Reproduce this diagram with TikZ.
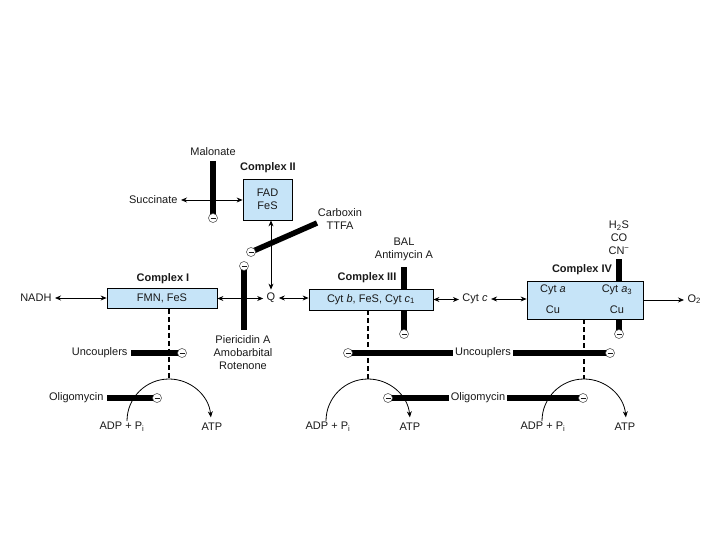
\documentclass[tikz,border=0pt]{standalone}
\usepackage{fontspec}
\setmainfont{Liberation Sans}
\usetikzlibrary{arrows.meta,positioning,backgrounds}
\definecolor{cplxblue}{RGB}{198,228,248}
\begin{document}
\begin{tikzpicture}[x=1pt,y=-1pt,
  every node/.style={font=\fontsize{11}{13}\selectfont, text=black!90},
  cplx/.style={draw, fill=cplxblue, line width=0.8pt, inner sep=0pt},
  ttl/.style={font=\fontsize{11}{13}\selectfont\bfseries},
  blk/.style={circle, draw=black!75, fill=white, line width=0.5pt, inner sep=0pt, minimum size=9pt},
  bar/.style={line width=5.5pt},
  flow/.style={{Stealth[length=6pt,width=5pt]}-{Stealth[length=6pt,width=5pt]}, line width=0.8pt},
  oneway/.style={-{Stealth[length=6pt,width=5pt]}, line width=0.8pt},
  link/.style={line width=1.6pt, dash pattern=on 5pt off 3pt},
  gap/.style={fill=white, inner xsep=2pt}]
  \useasboundingbox (0,0) rectangle (720,540);
  % complexes
  \node[cplx, minimum width=49pt, minimum height=41pt, align=center] (c2) at (267.5,199.5) {FAD\\FeS};
  \node[cplx, minimum width=110pt, minimum height=20pt] (c1) at (162,298.5) {FMN, FeS};
  \node[cplx, minimum width=124pt, minimum height=21pt] (c3) at (371,299.5) {Cyt \textit{b}, FeS, Cyt \textit{c}\textsubscript{1}};
  \node[cplx, minimum width=116pt, minimum height=38pt] (c4) at (585,300) {};
  \node (cyta)  at (553,290) {Cyt \textit{a}};
  \node (cyta3) at (617,290) {Cyt \textit{a}\textsubscript{3}};
  \node (cu1)   at (553,310) {Cu};
  \node (cu2)   at (617,310) {Cu};
  \node[ttl] (t1) at (163,279) {Complex I};
  \node[ttl] (t2) at (268,168) {Complex II};
  \node[ttl] (t3) at (367,278) {Complex III};
  \node[ttl] (t4) at (582,270) {Complex IV};
  % substrates and inhibitors
  \node (mal) at (213,152) {Malonate};
  \node[anchor=east] (succ) at (181,200) {Succinate};
  \node[align=center] (carb) at (340,219.5) {Carboxin\\TTFA};
  \node[anchor=east] (nadh) at (55,298) {NADH};
  \node (q) at (271,298) {Q};
  \node[align=center] (pier) at (243,353) {Piericidin A\\Amobarbital\\Rotenone};
  \node[align=center] (bal) at (404,249) {BAL\\Antimycin A};
  \node (cytc) at (475,299) {Cyt \textit{c}};
  \node[align=center] (cn) at (619,238) {H\textsubscript{2}S\\CO\\CN\textsuperscript{−}};
  \node[anchor=west] (o2) at (684,299) {O\textsubscript{2}};
  \node[anchor=east] (unc1) at (131,353) {Uncouplers};
  \node[gap] (unc2) at (483,353) {Uncouplers};
  \node[anchor=east] (oli1) at (107,398) {Oligomycin};
  \node[gap] (oli2) at (478,398) {Oligomycin};
  \node (adp1) at (122,427) {ADP + P\textsubscript{i}};
  \node (adp3) at (328,427) {ADP + P\textsubscript{i}};
  \node (adp4) at (543,427) {ADP + P\textsubscript{i}};
  \node (atp1) at (212,427) {ATP};
  \node (atp3) at (410,427) {ATP};
  \node (atp4) at (625,427) {ATP};
  % block marks
  \node[blk] (mb)  at (213,218) {\rule{5pt}{0.8pt}};
  \node[blk] (cb)  at (251,252) {\rule{5pt}{0.8pt}};
  \node[blk] (pb)  at (244,266) {\rule{5pt}{0.8pt}};
  \node[blk] (bb)  at (404,334) {\rule{5pt}{0.8pt}};
  \node[blk] (hb)  at (619,334) {\rule{5pt}{0.8pt}};
  \node[blk] (ub1) at (182,353) {\rule{5pt}{0.8pt}};
  \node[blk] (ub2) at (348,353) {\rule{5pt}{0.8pt}};
  \node[blk] (ub3) at (610,353) {\rule{5pt}{0.8pt}};
  \node[blk] (ob1) at (157,398) {\rule{5pt}{0.8pt}};
  \node[blk] (ob2) at (388,398) {\rule{5pt}{0.8pt}};
  \node[blk] (ob3) at (583,398) {\rule{5pt}{0.8pt}};
  \coordinate (mtop) at (213,161);
  \coordinate (ctop) at (317,223);
  \coordinate (pbot) at (244,330);
  \coordinate (btop) at (404,267);
  \coordinate (htop) at (619,259);
  \coordinate (k1) at (169,379);
  \coordinate (k3) at (368,379);
  \coordinate (k4) at (584,379);
  \begin{scope}[on background layer]
    \draw[bar] (mtop) -- (mb.center);
    \draw[bar] (ctop) -- (cb.center);
    \draw[bar] (pbot) -- (pb.center);
    \draw[bar] (btop) -- (bb.center);
    \draw[bar] (htop) -- (hb.center);
    \draw[bar] (unc1.east |- ub1) -- (ub1.center);
    \draw[bar] (ub2.center) -- (ub3.center);
    \draw[bar] (oli1.east |- ob1) -- (ob1.center);
    \draw[bar] (ob2.center) -- (ob3.center);
  \end{scope}
  % electron flow
  \draw[flow] (succ.east) -- (succ.east -| c2.west);
  \draw[flow] (nadh.east) -- (nadh.east -| c1.west);
  \draw[flow] (c1.east) -- (c1.east -| q.west);
  \draw[flow] (q.east) -- (q.east -| c3.west);
  \draw[flow] (q.north) -- (q.north |- c2.south);
  \draw[flow] (c3.east) -- (c3.east -| cytc.west);
  \draw[flow] (cytc.east) -- (cytc.east -| c4.west);
  \draw[oneway] (c4.east) -- (c4.east -| o2.west);
  % coupling to ATP synthesis
  \draw[link] (k1 |- c1.south) -- (k1);
  \draw[link] (k3 |- c3.south) -- (k3);
  \draw[link] (k4 |- c4.south) -- (k4);
  \draw[oneway] (k1) ++(-42,42) arc[start angle=180, end angle=355, radius=42];
  \draw[oneway] (k3) ++(-42,42) arc[start angle=180, end angle=355, radius=42];
  \draw[oneway] (k4) ++(-42,42) arc[start angle=180, end angle=355, radius=42];
\end{tikzpicture}
\end{document}
